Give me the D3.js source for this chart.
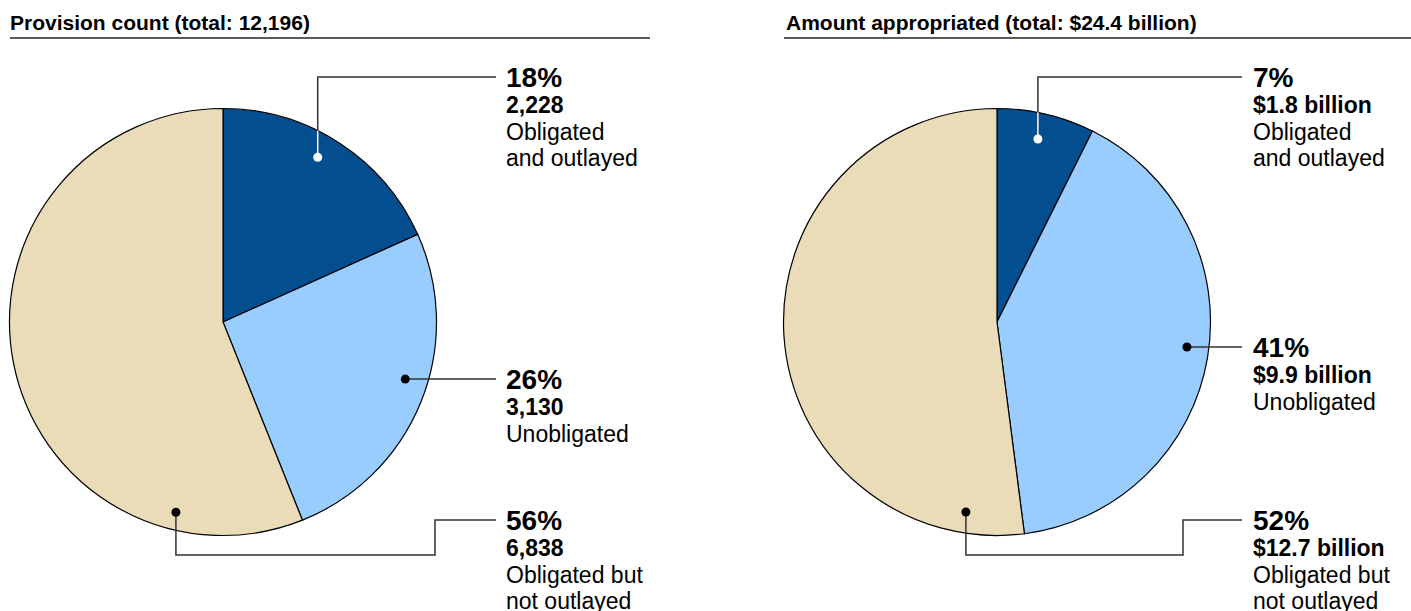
<!DOCTYPE html>
<html>
<head>
<meta charset="utf-8">
<script src="https://cdn.jsdelivr.net/npm/d3@7/dist/d3.min.js"></script>
<style>
  html, body { margin: 0; padding: 0; background: #fff; }
  svg { display: block; font-family: "Liberation Sans", Arial, sans-serif; }
</style>
</head>
<body>
<svg id="chart" width="1411" height="611"></svg>
<script>
// Status categories, in clockwise order from 12 o'clock
const categories = ["Obligated and outlayed", "Unobligated", "Obligated but not outlayed"];
const categoryLines = [["Obligated", "and outlayed"], ["Unobligated"], ["Obligated but", "not outlayed"]];
const colors = ["#034e8f", "#99ccff", "#eadcb8"];

// Provision counts per status
const provisionCounts = [2228, 3130, 6838];
// Amounts appropriated per status, billions of dollars
const amountBillions = [1.8, 9.9, 12.7];

const panelTitles = ["Provision count (total: 12,196)", "Amount appropriated (total: $24.4 billion)"];

const fmtCount = d3.format(",");
const fmtBillion = v => "$" + d3.format(".1f")(v) + " billion";

// Panel layout: pie centre, title rule extent, label column, leader routes
const panels = [
  {
    values: provisionCounts, fmt: fmtCount, title: panelTitles[0],
    cx: 223, cy: 322, r: 213.5, titleX: 10, ruleX0: 10, ruleX1: 650,
    textX: 506, leaderEnd: 496, elbowX: 435, bottomY: 555,
    labelY: [77, 379, 520],
    dots: [[29.9, 190], [107.4, 191], [193.9, 196]]
  },
  {
    values: amountBillions, fmt: fmtBillion, title: panelTitles[1],
    cx: 997, cy: 322, r: 213.5, titleX: 786, ruleX0: 784, ruleX1: 1411,
    textX: 1253, leaderEnd: 1242, elbowX: 1183, bottomY: 555,
    labelY: [77, 347, 520],
    dots: [[12.6, 187.5], [97.5, 191.6], [189.3, 192.5]]
  }
];

const svg = d3.select("#chart");
const pie = d3.pie().sort(null).value(d => d);

panels.forEach((p, pi) => {
  const total = d3.sum(p.values);
  const arcs = pie(p.values);
  const arc = d3.arc().innerRadius(0).outerRadius(p.r);

  // Title and rule
  svg.append("text")
    .attr("x", p.titleX).attr("y", 30)
    .attr("font-size", 21).attr("font-weight", "bold").attr("fill", "#000")
    .text(p.title);
  svg.append("line")
    .attr("x1", p.ruleX0).attr("x2", p.ruleX1).attr("y1", 38).attr("y2", 38)
    .attr("stroke", "#5a5a5a").attr("stroke-width", 2);

  const g = svg.append("g").attr("transform", `translate(${p.cx},${p.cy})`);

  g.selectAll("path.slice").data(arcs).join("path")
    .attr("class", "slice")
    .attr("d", arc)
    .attr("fill", (d, i) => colors[i])
    .attr("stroke", "#000").attr("stroke-width", 1.2);

  // Clip for the dark slice so its leader switches to white inside it
  const clipId = "darkClip" + pi;
  svg.append("clipPath").attr("id", clipId)
    .append("path")
    .attr("transform", `translate(${p.cx},${p.cy})`)
    .attr("d", arc(arcs[0]));

  arcs.forEach((a, i) => {
    const [deg, rad] = p.dots[i];
    const t = deg * Math.PI / 180;
    const dx = p.cx + rad * Math.sin(t);
    const dy = p.cy - rad * Math.cos(t);
    const ly = p.labelY[i];

    let pts;
    if (i === 0) pts = [[dx, dy], [dx, ly], [p.leaderEnd, ly]];
    else if (i === 1) pts = [[dx, dy], [p.leaderEnd, dy]];
    else pts = [[dx, dy], [dx, p.bottomY], [p.elbowX, p.bottomY], [p.elbowX, ly], [p.leaderEnd, ly]];

    const line = d3.line();
    svg.append("path").attr("d", line(pts))
      .attr("fill", "none").attr("stroke", "#333").attr("stroke-width", 1.5);
    if (i === 0) {
      svg.append("path").attr("d", line(pts))
        .attr("clip-path", `url(#${clipId})`)
        .attr("fill", "none").attr("stroke", "#fff").attr("stroke-width", 1.5);
    }
    svg.append("circle").attr("cx", dx).attr("cy", dy).attr("r", 4.5)
      .attr("fill", i === 0 ? "#fff" : "#000");

    const textY = i === 1 ? dy : ly;
    const txt = svg.append("text").attr("x", p.textX).attr("fill", "#000");
    txt.append("tspan").attr("x", p.textX).attr("y", textY + 10)
      .attr("font-size", 28).attr("font-weight", "bold")
      .text(Math.round(a.value / total * 100) + "%");
    txt.append("tspan").attr("x", p.textX).attr("y", textY + 36)
      .attr("font-size", 23).attr("font-weight", "bold")
      .text(p.fmt(a.value));
    categoryLines[i].forEach((ln, k) => {
      txt.append("tspan").attr("x", p.textX).attr("y", textY + 63 + k * 26)
        .attr("font-size", 23)
        .text(ln);
    });
  });
});
</script>
</body>
</html>
